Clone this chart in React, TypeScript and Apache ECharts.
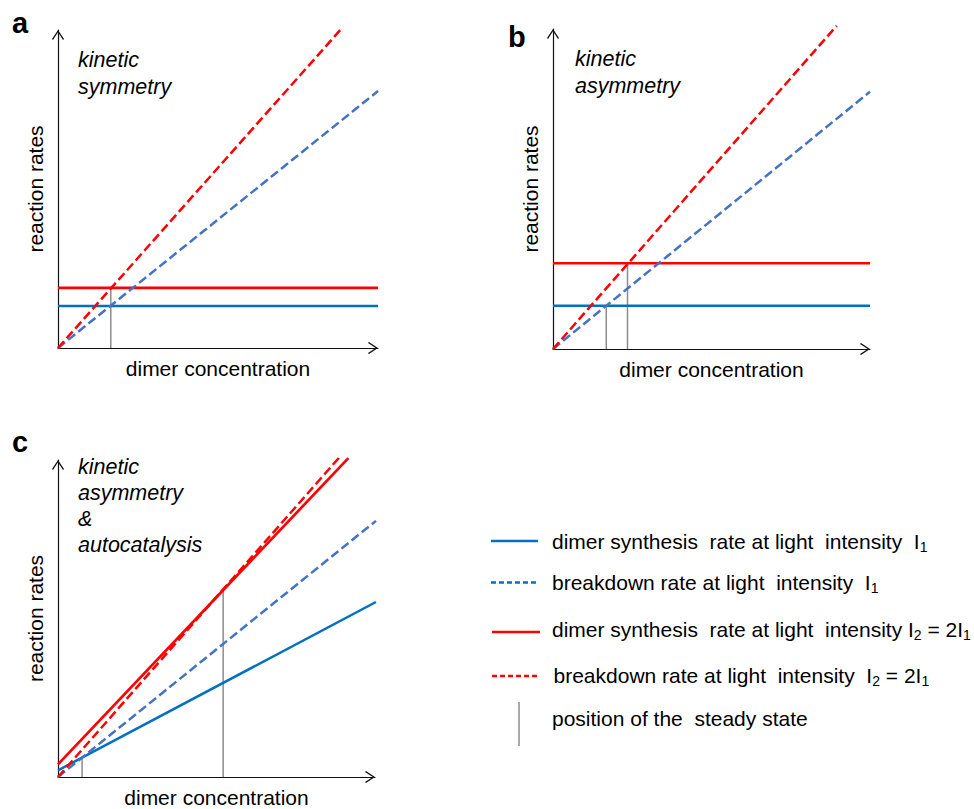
import React, { useEffect, useRef } from "react";
import * as echarts from "echarts";

// ---- data (x = dimer concentration, y = reaction rate; arbitrary units 0..10) ----
const aSynthI1: number[][] = [[0, 1.32], [10, 1.32]];
const aSynthI2: number[][] = [[0, 1.89], [10, 1.89]];
const aBreakI1: number[][] = [[0, 0], [10, 8.08]];
const aBreakI2: number[][] = [[0, 0], [8.9, 10.09]];
const aSteady: number[][][] = [[[1.65, 0], [1.65, 1.89]]];

const bSynthI1: number[][] = [[0, 1.35], [10, 1.35]];
const bSynthI2: number[][] = [[0, 2.68], [10, 2.68]];
const bBreakI1: number[][] = [[0, 0], [10, 8.04]];
const bBreakI2: number[][] = [[0, 0], [8.95, 10.1]];
const bSteady: number[][][] = [[[1.68, 0], [1.68, 1.35]], [[2.35, 0], [2.35, 2.68]]];

const cSynthI1: number[][] = [[0, 0.21], [10.03, 5.52]];
const cSynthI2: number[][] = [[0, 0.4], [9.16, 10.06]];
const cBreakI1: number[][] = [[0, 0], [10.03, 8.08]];
const cBreakI2: number[][] = [[0, 0], [8.9, 10.11]];
const cSteady: number[][][] = [[[0.76, 0], [0.76, 0.61]], [[5.21, 0], [5.21, 5.9]]];

const panelLetters = ["a", "b", "c"];
const panelNotes = ["kinetic\nsymmetry", "kinetic\nasymmetry", "kinetic\nasymmetry\n&\nautocatalysis"];
const xName = "dimer concentration";
const yName = "reaction rates";
const legendLabels = [
  "dimer synthesis  rate at light  intensity  I{s|1}",
  "breakdown rate at light  intensity  I{s|1}",
  "dimer synthesis  rate at light  intensity I{s|2} = 2I{s|1}",
  "breakdown rate at light  intensity  I{s|2} = 2I{s|1}",
  "position of the  steady state",
];

const FONT = "'Liberation Sans', Arial, sans-serif";
const RED = "#FF0000";
const BLUE = "#0070C0";
const BLUE_D = "#4472C4";
const GRAY = "#8C8C8C";
const ARROW = "path://M6,0 L12,9 L11,10 L6,2.3 L1,10 L0,9 Z";

export default function App() {
  const ref = useRef<HTMLDivElement>(null);
  useEffect(() => {
    if (!ref.current) return;
    const chart = echarts.init(ref.current, undefined, { renderer: "svg" });

    const grids = [
      { left: 58, top: 30, width: 320, height: 318 },
      { left: 553, top: 29, width: 317, height: 320 },
      { left: 58, top: 460, width: 317, height: 319 },
    ];

    const axisCommon = (name: string, gap: number, idx: number) => ({
      type: "value" as const,
      gridIndex: idx,
      min: 0,
      max: 10,
      name,
      nameLocation: "middle" as const,
      nameGap: gap,
      nameTextStyle: { fontFamily: FONT, fontSize: 21, color: "#000" },
      axisLine: {
        show: true,
        onZero: false,
        symbol: ["none", ARROW],
        symbolSize: [12, 10],
        symbolOffset: [0, -5],
        lineStyle: { color: "#111", width: 1.2 },
      },
      axisTick: { show: false },
      axisLabel: { show: false },
      splitLine: { show: false },
    });

    const xAxes = [0, 1, 2].map((i) => axisCommon(xName, 10, i));
    const yAxes = [0, 1, 2].map((i) => axisCommon(yName, 12, i));

    const line = (data: number[][], idx: number, color: string, dashed: boolean, width = 2.5) => ({
      type: "line" as const,
      xAxisIndex: idx,
      yAxisIndex: idx,
      data,
      symbol: "none",
      clip: false,
      silent: true,
      lineStyle: { color, width, type: dashed ? [9, 4] : "solid" },
    });

    const steadySeries = (segs: number[][][], idx: number) =>
      segs.map((s) => line(s, idx, GRAY, false, 1.5));

    const series = [
      ...steadySeries(aSteady, 0),
      line(aSynthI1, 0, BLUE, false),
      line(aSynthI2, 0, RED, false, 2.7),
      line(aBreakI1, 0, BLUE_D, true),
      line(aBreakI2, 0, RED, true),
      ...steadySeries(bSteady, 1),
      line(bSynthI1, 1, BLUE, false),
      line(bSynthI2, 1, RED, false, 2.7),
      line(bBreakI1, 1, BLUE_D, true),
      line(bBreakI2, 1, RED, true),
      ...steadySeries(cSteady, 2),
      line(cSynthI1, 2, BLUE, false),
      line(cBreakI1, 2, BLUE_D, true),
      line(cBreakI2, 2, RED, true),
      line(cSynthI2, 2, RED, false, 2.7),
    ];

    const letterPos = [
      [12, 23],
      [508, 36.5],
      [12, 441.5],
    ];
    const notePos = [
      [78, 46, 27],
      [575, 45, 27],
      [78, 454, 26],
    ];

    const legendRows = [
      { y: 541, color: BLUE, dashed: false, x1: 491, x2: 538 },
      { y: 582.5, color: BLUE, dashed: true, x1: 491, x2: 538 },
      { y: 632, color: RED, dashed: false, x1: 492, x2: 540 },
      { y: 676, color: RED, dashed: true, x1: 492, x2: 540 },
    ];
    const legendTextY = [541, 582, 629, 675, 718];
    const legendTextX = [552, 552, 552, 553.5, 552];

    const graphic: any[] = [];
    panelLetters.forEach((t, i) => {
      graphic.push({
        type: "text",
        x: letterPos[i][0],
        y: letterPos[i][1],
        style: { text: t, font: `bold 29px ${FONT}`, fill: "#000", verticalAlign: "middle" },
      });
    });
    panelNotes.forEach((t, i) => {
      graphic.push({
        type: "text",
        x: notePos[i][0],
        y: notePos[i][1],
        style: {
          text: t,
          font: `italic 21.5px ${FONT}`,
          fill: "#000",
          lineHeight: notePos[i][2],
          verticalAlign: "top",
        },
      });
    });
    legendRows.forEach((r) => {
      graphic.push({
        type: "line",
        shape: { x1: r.x1, y1: r.y, x2: r.x2, y2: r.y },
        style: { stroke: r.color, lineWidth: 2.4, lineDash: r.dashed ? [5, 3] : null },
      });
    });
    graphic.push({
      type: "line",
      shape: { x1: 519, y1: 702, x2: 519, y2: 746 },
      style: { stroke: GRAY, lineWidth: 1.5 },
    });
    legendLabels.forEach((t, i) => {
      graphic.push({
        type: "text",
        x: legendTextX[i],
        y: legendTextY[i],
        style: {
          text: t,
          fontFamily: FONT,
          fontSize: 21,
          fill: "#000",
          verticalAlign: "middle",
          lineHeight: 26,
          rich: {
            s: { fontFamily: FONT, fontSize: 14, lineHeight: 13, verticalAlign: "bottom", fill: "#000" },
          },
        },
      });
    });

    chart.setOption({
      animation: false,
      backgroundColor: "#fff",
      grid: grids,
      xAxis: xAxes,
      yAxis: yAxes,
      series,
      graphic,
    });
    return () => chart.dispose();
  }, []);

  return (
    <div
      ref={ref}
      style={{ position: "fixed", left: 0, top: 0, width: 974, height: 809, background: "#fff" }}
    />
  );
}
